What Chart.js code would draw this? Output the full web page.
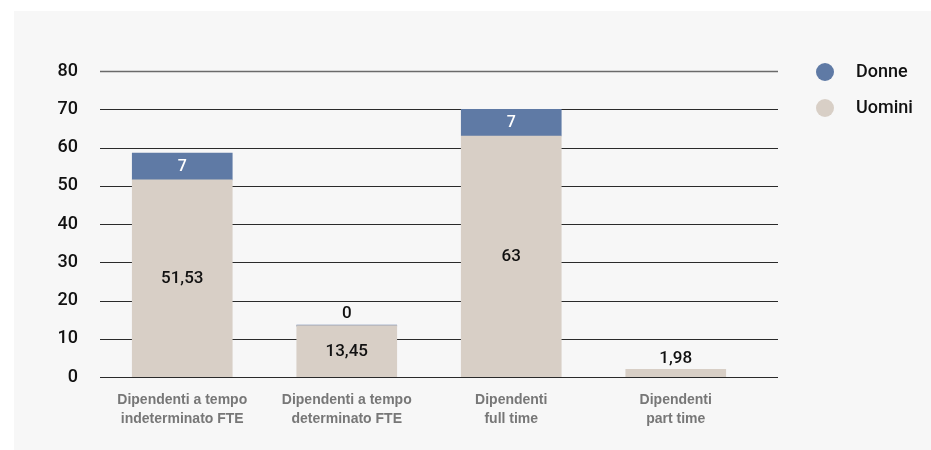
<!DOCTYPE html>
<html>
<head>
<meta charset="utf-8">
<script src="https://cdn.jsdelivr.net/npm/chart.js@4.4.0/dist/chart.umd.min.js"></script>
<style>
  html, body { margin: 0; padding: 0; background: #ffffff; }
  #wrap { position: relative; width: 931px; height: 450px; }
  #panel { position: absolute; left: 14px; top: 11px; right: 0; bottom: 0; background: #f7f7f7; }
  #chart { position: absolute; left: 0; top: 0; }
</style>
</head>
<body>
<div id="wrap">
  <div id="panel"></div>
  <canvas id="chart" width="931" height="450"></canvas>
</div>
<script>
// Categories and series
const categories = [
  ["Dipendenti a tempo", "indeterminato FTE"],
  ["Dipendenti a tempo", "determinato FTE"],
  ["Dipendenti", "full time"],
  ["Dipendenti", "part time"],
];
const uomini = [51.53, 13.45, 63, 1.98];
const donne = [7, 0, 7, null];
const yTicks = [0, 10, 20, 30, 40, 50, 60, 70, 80];

const BLUE = "#5f7aa5";
const BEIGE = "#d8cfc6";
const FONT = "Roboto, 'Liberation Sans', Arial, sans-serif";
const LABEL_FONT = "'Liberation Sans', Arial, sans-serif";

// Format numbers with a comma as decimal separator
function fmt(v) {
  return String(v).replace(".", ",");
}

// Horizontal grid lines, running past the plot into the gap before the legend
const gridLines = {
  id: "gridLines",
  beforeDatasetsDraw(chart) {
    const ctx = chart.ctx;
    const y = chart.scales.y;
    ctx.save();
    yTicks.forEach((t) => {
      const py = Math.round(y.getPixelForValue(t)) + 0.5;
      ctx.strokeStyle = t === 80 ? "#6a6a6a" : "#2a2a2a";
      ctx.lineWidth = t === 80 ? 1.5 : 1;
      ctx.beginPath();
      ctx.moveTo(100, py);
      ctx.lineTo(778, py);
      ctx.stroke();
    });
    ctx.restore();
  },
};

// Value labels on the segments
const valueLabels = {
  id: "valueLabels",
  afterDatasetsDraw(chart) {
    const ctx = chart.ctx;
    ctx.save();
    ctx.textAlign = "center";
    ctx.textBaseline = "middle";
    chart.data.datasets.forEach((ds, di) => {
      const meta = chart.getDatasetMeta(di);
      meta.data.forEach((bar, i) => {
        const v = ds.data[i];
        if (v === null || v === undefined) return;
        const h = Math.abs(bar.base - bar.y);
        if (h < 20) {
          ctx.fillStyle = "#111111";
          ctx.font = "500 17px " + FONT;
          ctx.fillText(fmt(v), bar.x, Math.min(bar.y, bar.base) - 11);
        } else {
          ctx.fillStyle = di === 1 ? "#ffffff" : "#111111";
          ctx.font = (di === 1 ? "500 16px " : "500 17px ") + FONT;
          ctx.fillText(fmt(v), bar.x, (bar.y + bar.base) / 2);
        }
      });
    });
    ctx.restore();
  },
};

// Legend with round swatches on the right
const sideLegend = {
  id: "sideLegend",
  afterDraw(chart) {
    const ctx = chart.ctx;
    const items = [
      { label: "Donne", color: BLUE, y: 72 },
      { label: "Uomini", color: BEIGE, y: 108 },
    ];
    ctx.save();
    items.forEach((it) => {
      ctx.fillStyle = it.color;
      ctx.beginPath();
      ctx.arc(825, it.y, 9, 0, Math.PI * 2);
      ctx.fill();
      ctx.fillStyle = "#111111";
      ctx.font = "500 18px " + FONT;
      ctx.textAlign = "left";
      ctx.textBaseline = "middle";
      ctx.fillText(it.label, 856, it.y);
    });
    ctx.restore();
  },
};

new Chart(document.getElementById("chart"), {
  type: "bar",
  data: {
    labels: categories,
    datasets: [
      {
        label: "Uomini",
        data: uomini,
        backgroundColor: BEIGE,
        barThickness: 100,
      },
      {
        label: "Donne",
        data: donne,
        backgroundColor: BLUE,
        barThickness: 100,
        minBarLength: 1,
      },
    ],
  },
  options: {
    responsive: false,
    animation: false,
    layout: { padding: { left: 0, right: 173, top: 71, bottom: 0 } },
    plugins: {
      legend: { display: false },
      tooltip: { enabled: false },
    },
    scales: {
      x: {
        stacked: true,
        grid: { display: false, drawTicks: false },
        border: { display: false },
        ticks: {
          color: "#777777",
          font: { family: LABEL_FONT, size: 14, weight: "bold", lineHeight: 1.36 },
          padding: 14,
          maxRotation: 0,
          autoSkip: false,
        },
        afterFit(scale) {
          scale.height = 73;
        },
      },
      y: {
        stacked: true,
        min: 0,
        max: 80,
        grid: { display: false, drawTicks: false },
        border: { display: false },
        ticks: {
          stepSize: 10,
          color: "#111111",
          font: { family: FONT, size: 18, weight: "500" },
          padding: 22,
        },
        afterFit(scale) {
          scale.width = 100;
        },
      },
    },
  },
  plugins: [gridLines, valueLabels, sideLegend],
});
</script>
</body>
</html>
